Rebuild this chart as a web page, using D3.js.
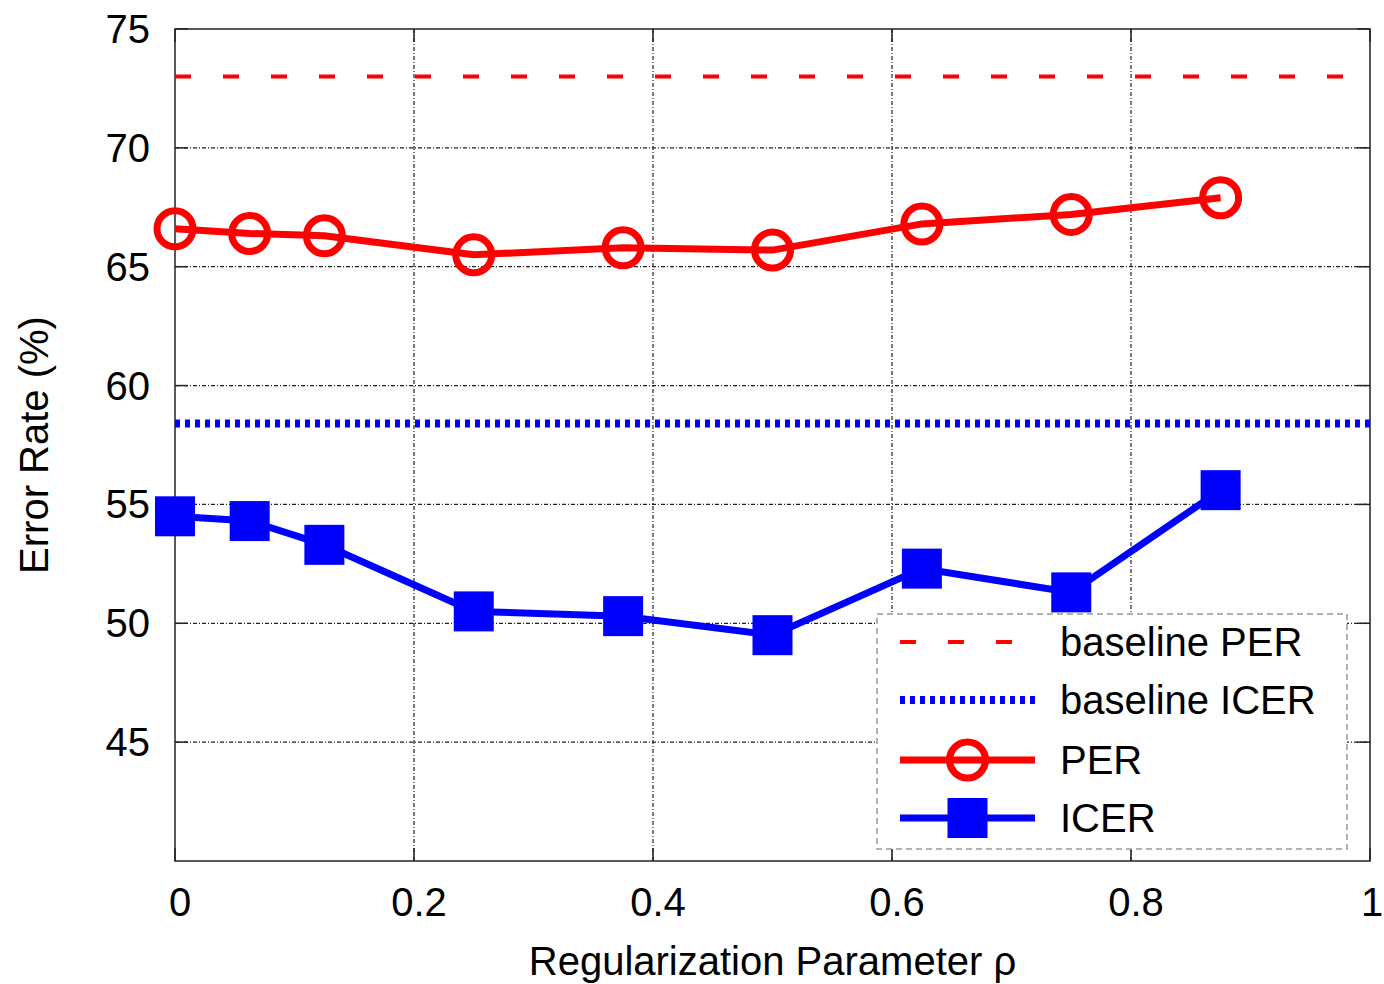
<!DOCTYPE html>
<html>
<head>
<meta charset="utf-8">
<script src="https://cdn.jsdelivr.net/npm/d3@7"></script>
<style>
  body { margin: 0; background: #fff; }
  svg text { font-family: "Liberation Sans", Arial, sans-serif; fill: #000; }
</style>
</head>
<body>
<svg id="chart" width="1384" height="984"></svg>
<script>

//**************************************************************************
//** data
//**************************************************************************
var rho = [0, 0.0625, 0.125, 0.25, 0.375, 0.5, 0.625, 0.75, 0.875];
var per = [66.6, 66.4, 66.3, 65.5, 65.8, 65.7, 66.8, 67.2, 67.9];
var icer = [54.5, 54.3, 53.3, 50.5, 50.3, 49.5, 52.3, 51.3, 55.6];
var baselinePER = 73.0;
var baselineICER = 58.4;
var xTicks = [0, 0.2, 0.4, 0.6, 0.8, 1];
var yTicks = [45, 50, 55, 60, 65, 70, 75];


//**************************************************************************
//** layout
//**************************************************************************
var margin = {left: 175, top: 29, right: 14, bottom: 123};
var width = 1384 - margin.left - margin.right;
var height = 984 - margin.top - margin.bottom;

var svg = d3.select("#chart");
var g = svg.append("g").attr("transform", "translate(" + margin.left + "," + margin.top + ")");

var x = d3.scaleLinear().domain([0, 1]).range([0, width]);
var y = d3.scaleLinear().domain([40, 75]).range([height, 0]);

var red = "#ff0000", blue = "#0000ff";
var fontSize = "40px";


//Gridlines
g.append("g").selectAll("line").data(xTicks.slice(1, -1)).enter().append("line")
    .attr("x1", d => x(d)).attr("x2", d => x(d))
    .attr("y1", 0).attr("y2", height)
    .attr("stroke", "#222").attr("stroke-width", 1.2)
    .attr("stroke-dasharray", "4,2,1,2");

g.append("g").selectAll("line").data(yTicks.slice(0, -1)).enter().append("line")
    .attr("x1", 0).attr("x2", width)
    .attr("y1", d => y(d)).attr("y2", d => y(d))
    .attr("stroke", "#222").attr("stroke-width", 1.2)
    .attr("stroke-dasharray", "4,2,1,2");


//Frame + inner ticks
g.append("rect").attr("width", width).attr("height", height)
    .attr("fill", "none").attr("stroke", "#222").attr("stroke-width", 1.5);

var tickLen = 13;
xTicks.forEach(function(d){
    g.append("line").attr("x1", x(d)).attr("x2", x(d)).attr("y1", height).attr("y2", height - tickLen)
        .attr("stroke", "#222").attr("stroke-width", 1.5);
    g.append("line").attr("x1", x(d)).attr("x2", x(d)).attr("y1", 0).attr("y2", tickLen)
        .attr("stroke", "#222").attr("stroke-width", 1.5);
});
yTicks.forEach(function(d){
    g.append("line").attr("x1", 0).attr("x2", tickLen).attr("y1", y(d)).attr("y2", y(d))
        .attr("stroke", "#222").attr("stroke-width", 1.5);
    g.append("line").attr("x1", width).attr("x2", width - tickLen).attr("y1", y(d)).attr("y2", y(d))
        .attr("stroke", "#222").attr("stroke-width", 1.5);
});


//Tick labels (last one pulled in so it stays on the page)
g.append("g").selectAll("text").data(xTicks).enter().append("text")
    .attr("x", d => x(d) + (d === 1 ? 2 : 5))
    .attr("y", height + 55)
    .attr("text-anchor", "middle")
    .style("font-size", fontSize)
    .text(d => d3.format("~g")(d));

g.append("g").selectAll("text").data(yTicks).enter().append("text")
    .attr("x", -25)
    .attr("y", d => y(d) + 14)
    .attr("text-anchor", "end")
    .style("font-size", fontSize)
    .text(d => d);


//Axis titles
svg.append("text")
    .attr("x", margin.left + width / 2)
    .attr("y", 975)
    .attr("text-anchor", "middle")
    .style("font-size", fontSize)
    .text("Regularization Parameter ρ");

svg.append("text")
    .attr("transform", "translate(48," + 445 + ") rotate(-90)")
    .attr("text-anchor", "middle")
    .style("font-size", fontSize)
    .text("Error Rate (%)");


//Baselines
g.append("line").attr("x1", 0).attr("x2", width)
    .attr("y1", y(baselinePER)).attr("y2", y(baselinePER))
    .attr("stroke", red).attr("stroke-width", 4).attr("stroke-dasharray", "16,32");

g.append("line").attr("x1", 0).attr("x2", width)
    .attr("y1", y(baselineICER)).attr("y2", y(baselineICER))
    .attr("stroke", blue).attr("stroke-width", 8).attr("stroke-dasharray", "5,5");


//Series
var line = d3.line().x(d => x(d[0])).y(d => y(d[1]));
var perData = d3.zip(rho, per);
var icerData = d3.zip(rho, icer);

g.append("path").datum(perData).attr("d", line)
    .attr("fill", "none").attr("stroke", red).attr("stroke-width", 7);
g.append("g").selectAll("circle").data(perData).enter().append("circle")
    .attr("cx", d => x(d[0])).attr("cy", d => y(d[1])).attr("r", 18)
    .attr("fill", "none").attr("stroke", red).attr("stroke-width", 7);

g.append("path").datum(icerData).attr("d", line)
    .attr("fill", "none").attr("stroke", blue).attr("stroke-width", 7);
var sq = 40;
g.append("g").selectAll("rect").data(icerData).enter().append("rect")
    .attr("x", d => x(d[0]) - sq / 2).attr("y", d => y(d[1]) - sq / 2)
    .attr("width", sq).attr("height", sq).attr("fill", blue);


//Legend
var legend = svg.append("g").attr("transform", "translate(877,614)");
legend.append("rect").attr("width", 470).attr("height", 235)
    .attr("fill", "#fff").attr("stroke", "#999").attr("stroke-width", 1.5)
    .attr("stroke-dasharray", "6,4");

var rows = [
    {label: "baseline PER", y: 28},
    {label: "baseline ICER", y: 86},
    {label: "PER", y: 146},
    {label: "ICER", y: 204}
];
var lx1 = 23, lx2 = 158, lmid = (lx1 + lx2) / 2;

legend.append("line").attr("x1", lx1).attr("x2", lx2).attr("y1", rows[0].y).attr("y2", rows[0].y)
    .attr("stroke", red).attr("stroke-width", 4).attr("stroke-dasharray", "16,32");
legend.append("line").attr("x1", lx1).attr("x2", lx2).attr("y1", rows[1].y).attr("y2", rows[1].y)
    .attr("stroke", blue).attr("stroke-width", 8).attr("stroke-dasharray", "5,5");
legend.append("line").attr("x1", lx1).attr("x2", lx2).attr("y1", rows[2].y).attr("y2", rows[2].y)
    .attr("stroke", red).attr("stroke-width", 7);
legend.append("circle").attr("cx", lmid).attr("cy", rows[2].y).attr("r", 18)
    .attr("fill", "none").attr("stroke", red).attr("stroke-width", 7);
legend.append("line").attr("x1", lx1).attr("x2", lx2).attr("y1", rows[3].y).attr("y2", rows[3].y)
    .attr("stroke", blue).attr("stroke-width", 7);
legend.append("rect").attr("x", lmid - sq / 2).attr("y", rows[3].y - sq / 2)
    .attr("width", sq).attr("height", sq).attr("fill", blue);

legend.selectAll("text.lbl").data(rows).enter().append("text")
    .attr("class", "lbl")
    .attr("x", 183).attr("y", d => d.y + 14)
    .style("font-size", fontSize)
    .text(d => d.label);

</script>
</body>
</html>
